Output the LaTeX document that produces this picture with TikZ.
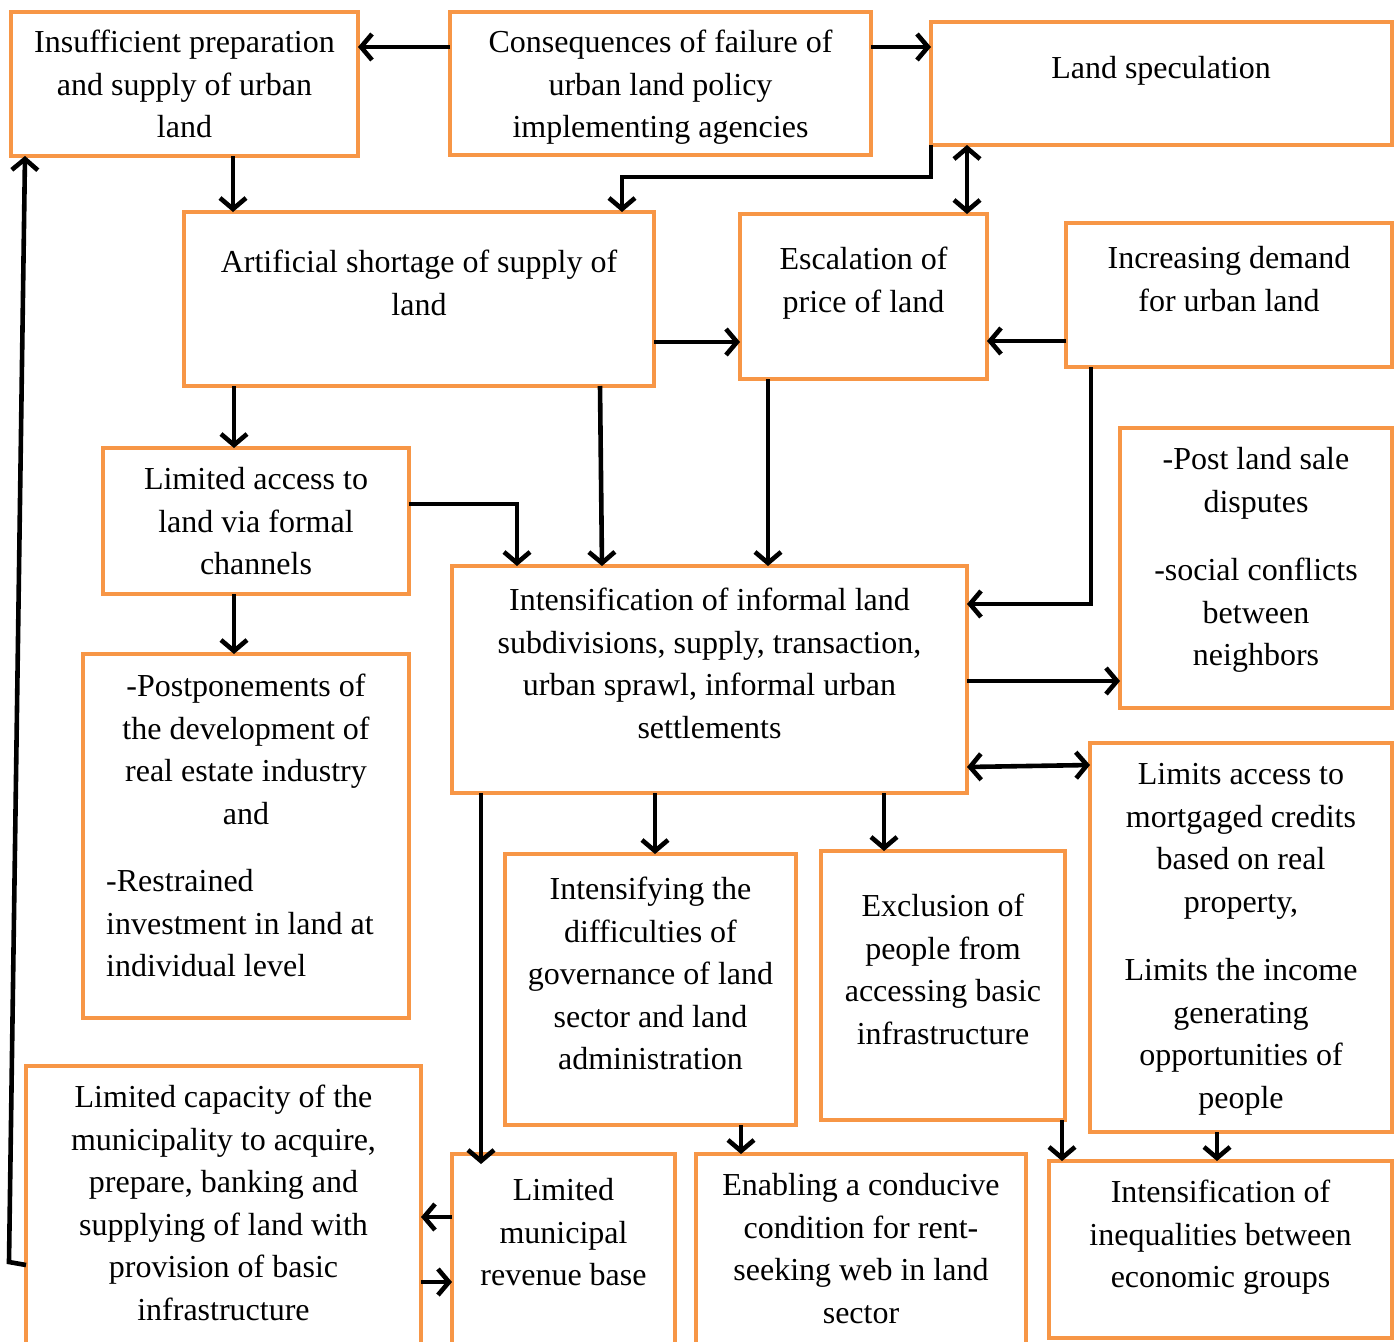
\documentclass[tikz,border=0pt]{standalone}
\usepackage{fontspec}
\setmainfont{Liberation Serif}
\usetikzlibrary{arrows.meta}
\definecolor{boxorange}{RGB}{247,150,70}
\tikzset{
  box/.style={draw=boxorange, line width=4pt, fill=white, inner sep=0pt, outer sep=0pt, anchor=north west},
  txt/.style={anchor=north, inner sep=0pt, align=center, font=\fontsize{32}{42.5}\selectfont},
  txtl/.style={anchor=north west, inner sep=0pt, align=left, font=\fontsize{32}{42.5}\selectfont},
  arr/.style={draw=black, line width=4.6pt, -{Straight Barb[length=11pt,width=26pt]}},
  darr/.style={draw=black, line width=4.6pt, {Straight Barb[length=11pt,width=26pt]}-{Straight Barb[length=11pt,width=26pt]}}
}
\begin{document}
\begin{tikzpicture}[x=1pt,y=-1pt]
\useasboundingbox (0,0) rectangle (1399,1341);
\clip (0,0) rectangle (1399,1341);
% boxes
\node[box, minimum width=347pt, minimum height=144pt] (b1) at (11,12) {};
\node[box, minimum width=421pt, minimum height=143pt] (b2) at (450,12) {};
\node[box, minimum width=461pt, minimum height=123pt] (b3) at (931,22) {};
\node[box, minimum width=470pt, minimum height=174pt] (b4) at (184,212) {};
\node[box, minimum width=247pt, minimum height=165pt] (b5) at (740,214) {};
\node[box, minimum width=326pt, minimum height=144pt] (b6) at (1066,223) {};
\node[box, minimum width=306pt, minimum height=146pt] (b7) at (103,448) {};
\node[box, minimum width=272pt, minimum height=280pt] (b8) at (1120,428) {};
\node[box, minimum width=515pt, minimum height=227pt] (b9) at (452,566) {};
\node[box, minimum width=326pt, minimum height=364pt] (b10) at (83,654) {};
\node[box, minimum width=302pt, minimum height=389pt] (b11) at (1090,743) {};
\node[box, minimum width=291pt, minimum height=271pt] (b12) at (505,854) {};
\node[box, minimum width=244pt, minimum height=269pt] (b13) at (821,851) {};
\node[box, minimum width=395pt, minimum height=284pt] (b14) at (26,1066) {};
\node[box, minimum width=223pt, minimum height=196pt] (b15) at (452,1154) {};
\node[box, minimum width=330pt, minimum height=196pt] (b16) at (696,1154) {};
\node[box, minimum width=343pt, minimum height=177pt] (b17) at (1049,1161) {};
% texts
\node[txt] (t1) at (184.5,23) {\strut Insufficient preparation\\and supply of urban\\land};
\node[txt] (t2) at (660.5,23) {\strut Consequences of failure of\\urban land policy\\implementing agencies};
\node[txt] (t3) at (1161,49) {\strut Land speculation};
\node[txt] (t4) at (419,243) {\strut Artificial shortage of supply of\\land};
\node[txt] (t5) at (863.5,240) {\strut Escalation of\\price of land};
\node[txt] (t6) at (1229,239) {\strut Increasing demand\\for urban land};
\node[txt] (t7) at (256,460) {\strut Limited access to\\land via formal\\channels};
\node[txt] (t8) at (1256,440) {\strut -Post land sale\\disputes\\[26pt]-social conflicts\\between\\neighbors};
\node[txt] (t9) at (709.5,581) {\strut Intensification of informal land\\subdivisions, supply, transaction,\\urban sprawl, informal urban\\settlements};
\node[txt] (t10) at (246,667) {\strut -Postponements of\\the development of\\real estate industry\\and};
\node[txtl] (t10b) at (106,862) {\strut -Restrained\\investment in land at\\individual level};
\node[txt] (t11) at (1241,755) {\strut Limits access to\\mortgaged credits\\based on real\\property,\\[26pt]Limits the income\\generating\\opportunities of\\people};
\node[txt] (t12) at (650.5,870) {\strut Intensifying the\\difficulties of\\governance of land\\sector and land\\administration};
\node[txt] (t13) at (943,887) {\strut Exclusion of\\people from\\accessing basic\\infrastructure};
\node[txt] (t14) at (223.5,1078) {\strut Limited capacity of the\\municipality to acquire,\\prepare, banking and\\supplying of land with\\provision of basic\\infrastructure};
\node[txt] (t15) at (563.5,1171) {\strut Limited\\municipal\\revenue base};
\node[txt] (t16) at (861,1166) {\strut Enabling a conducive\\condition for rent-\\seeking web in land\\sector};
\node[txt] (t17) at (1220.5,1173) {\strut Intensification of\\inequalities between\\economic groups};
% connectors
\draw[arr] (b2.west |- 0,47) -- (b1.east |- 0,47);
\draw[arr] (b2.east |- 0,47) -- (b3.west |- 0,47);
\draw[arr] (b3.south west) |- (622,177) -- (622,0 |- b4.north);
\draw[darr] (967,0 |- b3.south) -- (967,0 |- b5.north);
\draw[arr] (233,0 |- b1.south) -- (233,0 |- b4.north);
\draw[arr] (b4.east |- 0,342) -- (b5.west |- 0,342);
\draw[arr] (b6.west |- 0,341) -- (b5.east |- 0,341);
\draw[arr] (768,0 |- b5.south) -- (768,0 |- b9.north);
\draw[arr] (1091,0 |- b6.south) |- (b9.east |- 0,604);
\draw[arr] (234,0 |- b4.south) -- (234,0 |- b7.north);
\draw[arr] (600,0 |- b4.south) -- (602,0 |- b9.north);
\draw[arr] (b7.east |- 0,504) -| (517,0 |- b9.north);
\draw[arr] (234,0 |- b7.south) -- (234,0 |- b10.north);
\draw[arr] (b9.east |- 0,681) -- (b8.west |- 0,681);
\draw[darr] (b9.east |- 0,767) -- (b11.west |- 0,765);
\draw[arr] (655,0 |- b9.south) -- (655,0 |- b12.north);
\draw[arr] (884,0 |- b9.south) -- (884,0 |- b13.north);
\draw[arr] (481,0 |- b9.south) -- (481,1164);
\draw[arr] (741,0 |- b12.south) -- (741,0 |- b16.north);
\draw[arr] (1062,0 |- b13.south) -- (1062,0 |- b17.north);
\draw[arr] (1217,0 |- b11.south) -- (1217,0 |- b17.north);
\draw[arr] (b15.west |- 0,1217) -- (b14.east |- 0,1217);
\draw[arr] (b14.east |- 0,1282) -- (b15.west |- 0,1282);
\draw[arr] (b14.west |- 0,1265) -- (9,1262) -- (25,0 |- b1.south);
\end{tikzpicture}
\end{document}
